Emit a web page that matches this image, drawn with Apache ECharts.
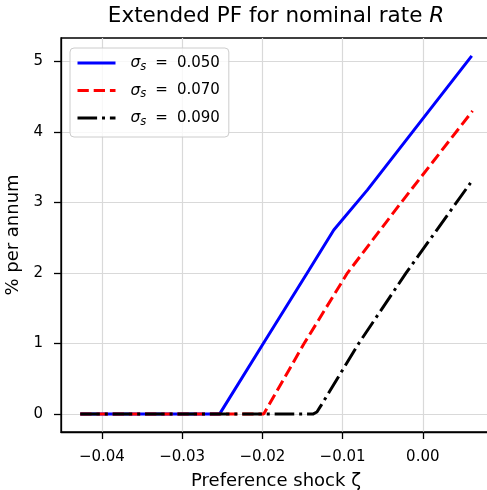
<!DOCTYPE html>
<html>
<head>
<meta charset="utf-8">
<script src="https://cdn.jsdelivr.net/npm/echarts@6/dist/echarts.min.js"></script>
<style>
html,body{margin:0;padding:0;background:#fff;}
#c{width:487px;height:490px;}
</style>
</head>
<body>
<div id="c"></div>
<script>
// ---- data ----
const sigmaLabels = ['0.050', '0.070', '0.090'];
const zetaBlue = [-0.0427, -0.02534, -0.0200, -0.0142, -0.0111, -0.0069, -0.0013, 0.0061];
const rateBlue = [0, 0, 0.98, 2.04, 2.61, 3.18, 4.00, 5.08];
const zetaRed = [-0.0427, -0.01983, -0.0148, -0.0094, -0.0027, 0.0062];
const rateRed = [0, 0, 1.00, 2.00, 3.00, 4.30];
const zetaBlack = [-0.0427, -0.0137, -0.0132, -0.0127, -0.0080, -0.0021, 0.00595];
const rateBlack = [0, 0, 0.03, 0.12, 1.00, 2.00, 3.28];
const xTicks = [-0.04, -0.03, -0.02, -0.01, 0.00];
const yTicks = [0, 1, 2, 3, 4, 5];

const FONT = 'DejaVu Sans';
function pairs(xs, ys) { return xs.map((x, i) => [x, ys[i]]); }
function fmtX(v) {
  const a = Math.abs(v).toFixed(2);
  return v < -1e-9 ? '\u2212' + a : a;
}
const names = sigmaLabels.map(s => 'σs = ' + s);

const chart = echarts.init(document.getElementById('c'), null, {renderer: 'canvas'});
chart.setOption({
  animation: false,
  backgroundColor: '#fff',
  title: {
    text: '{n|Extended PF for nominal rate }{i|R}',
    left: 276, textAlign: 'center', top: 5, padding: 0,
    textStyle: {
      fontWeight: 'normal',
      rich: {
        n: {fontFamily: FONT, fontSize: 21.5, fontWeight: 'normal', color: '#000'},
        i: {fontFamily: FONT, fontSize: 21.5, fontWeight: 'normal', fontStyle: 'italic', color: '#000'}
      }
    }
  },
  grid: {left: 61, top: 38, right: -4, bottom: 58, show: true, borderColor: '#000', borderWidth: 1.3,
         containLabel: false, outerBoundsMode: 'none'},
  legend: {
    orient: 'vertical', left: 70, top: 48,
    backgroundColor: 'rgba(255,255,255,0.8)', borderColor: '#cccccc', borderWidth: 1, borderRadius: 4,
    padding: [7, 9, 9, 6], itemWidth: 38, itemHeight: 14, itemGap: 9.5,
    itemStyle: {opacity: 0},
    lineStyle: {width: 3},
    data: names,
    formatter: function (name) {
      const idx = names.indexOf(name);
      return '{s|σ}{b|s}{e|=}{t|' + sigmaLabels[idx] + '}';
    },
    textStyle: {
      padding: [0, 0, 0, 10],
      rich: {
        s: {fontFamily: FONT, fontSize: 15.5, fontStyle: 'italic', color: '#000', lineHeight: 20},
        b: {fontFamily: FONT, fontSize: 11.5, fontStyle: 'italic', color: '#000', lineHeight: 14, verticalAlign: 'bottom'},
        e: {fontFamily: FONT, fontSize: 15, color: '#000', lineHeight: 20, padding: [0, 9, 0, 9]},
        t: {fontFamily: FONT, fontSize: 15, color: '#000', lineHeight: 20}
      }
    }
  },
  xAxis: {
    type: 'value', min: -0.0451, max: 0.0085, splitNumber: 5,
    name: 'Preference shock ζ', nameLocation: 'middle', nameGap: 40,
    nameTextStyle: {fontFamily: FONT, fontSize: 18, color: '#000'},
    axisLine: {show: true, onZero: false, lineStyle: {color: '#000', width: 1.3}},
    axisTick: {show: true, length: 7, customValues: xTicks, lineStyle: {color: '#000', width: 1.3}},
    axisLabel: {customValues: xTicks, formatter: fmtX, margin: 17.5, fontFamily: FONT, fontSize: 15, color: '#000'},
    splitLine: {show: true, lineStyle: {color: '#d9d9d9', width: 1.2}}
  },
  yAxis: {
    type: 'value', min: -0.254, max: 5.334, splitNumber: 5,
    name: '% per annum', nameLocation: 'middle', nameGap: 37,
    nameTextStyle: {fontFamily: FONT, fontSize: 18, color: '#000'},
    axisLine: {show: true, onZero: false, lineStyle: {color: '#000', width: 1.3}},
    axisTick: {show: true, length: 7, customValues: yTicks, lineStyle: {color: '#000', width: 1.3}},
    axisLabel: {customValues: yTicks, formatter: v => String(Math.round(v)), margin: 18, fontFamily: FONT, fontSize: 15, color: '#000'},
    splitLine: {show: true, lineStyle: {color: '#d9d9d9', width: 1.2}}
  },
  series: [
    {name: names[0], type: 'line', data: pairs(zetaBlue, rateBlue), symbol: 'none', showSymbol: false,
     lineStyle: {color: '#0000ff', width: 3, type: 'solid'}, itemStyle: {color: '#0000ff'}},
    {name: names[1], type: 'line', data: pairs(zetaRed, rateRed), symbol: 'none', showSymbol: false,
     lineStyle: {color: '#ff0000', width: 3, type: [11.3, 4.9]}, itemStyle: {color: '#ff0000'}},
    {name: names[2], type: 'line', data: pairs(zetaBlack, rateBlack), symbol: 'none', showSymbol: false,
     lineStyle: {color: '#000000', width: 3, type: [19.6, 4.9, 3, 4.9]}, itemStyle: {color: '#000000'}}
  ]
});
</script>
</body>
</html>
